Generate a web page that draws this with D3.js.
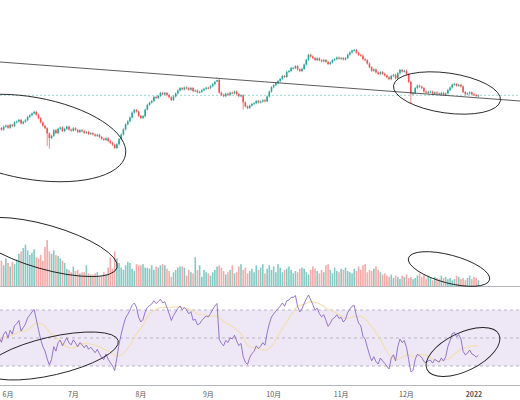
<!DOCTYPE html>
<html><head><meta charset="utf-8">
<script src="https://cdn.jsdelivr.net/npm/d3@7"></script>
<style>body{margin:0;background:#fff}svg{display:block}</style>
</head><body>
<script>
// daily closes, 2021-05-28 .. 2022-01-03 (k USD)
var startDate = new Date(2021, 4, 28);
var closes = [
38.1,37.5,38.6,39.0,38.2, 39.3,38.8,40.2,40.5,41.1, 39.8,40.4,41.0,42.2,42.8, 43.5,44.1,43.0,41.7,40.2,
38.9,38.0,36.1,34.4,35.2, 37.3,36.2,37.8,38.3,37.0, 37.8,38.6,37.5,37.1,38.0, 37.4,36.6,37.3,36.9,36.3,
36.7,35.9,36.2,35.7,35.2, 35.6,34.8,34.1,33.7,34.3, 33.3,32.6,31.9,30.7,32.1, 34.0,35.7,37.6,39.5,40.6,
42.0,43.8,44.8,44.2,42.6, 41.8,42.5,44.9,46.7,47.5, 48.1,49.6,49.2,50.0,51.1, 50.6,51.1,50.3,49.5,48.5,
49.8,50.9,52.0,52.9,52.4, 53.1,52.8,52.3,52.9,51.8, 52.0,51.3,51.5,52.1,52.6, 53.0,52.9,53.6,54.4,55.2,
55.9,51.2,50.4,49.9,50.8, 50.4,51.2,51.0,51.6,50.7, 49.9,50.2,47.6,46.1,45.5, 46.4,47.0,47.3,48.1,47.6,
47.9,48.4,48.0,49.8,51.6, 53.2,54.0,54.8,55.5,56.3, 57.4,57.0,58.9,59.2,60.3, 60.3,61.0,59.8,59.2,60.0,
61.6,63.4,65.2,64.6,64.0, 63.3,63.9,63.2,62.8,63.3, 62.6,61.8,62.4,63.3,63.6, 64.2,63.8,64.0,63.5,64.0,
65.3,66.1,66.8,67.0,66.0, 65.2,64.9,63.6,63.2,62.0, 60.6,59.3,59.8,58.7,58.1, 58.8,58.2,57.6,56.9,56.2,
57.4,57.8,56.5,58.4,59.6, 59.0,59.3,58.1,55.2,50.8, 51.0,52.9,53.8,53.4,52.9, 51.6,51.2,51.5,51.6,50.8,
51.3,50.9,50.6,51.1,50.4, 50.9,52.2,53.1,54.2,54.4, 53.8,54.1,53.5,51.4,50.7, 50.9,51.3,50.6,50.4,50.0,
50.2];
// notable long wicks: [day, low]
var longWicks = [[22, 31.5], [23, 30.5], [100, 56.8], [112, 44.9], [189, 47.0]];
// daily volume (arbitrary units)
var volumes = [
24,22,18,24,20, 17,21,19,23,28, 30,33,36,31,27, 29,32,25,24,27, 22,34,40,30,28, 31,27,26,24,22,
20,15,14,12,17, 13,14,11,12,12, 18,11,10,10,11, 12,8,9,12,10, 16,25,15,30,24, 20,16,14,18,21,
20,15,13,19,18, 18,19,16,16,15, 18,14,17,16,18, 19,18,15,13,8, 12,14,16,17,17, 16,9,14,12,11,
25,14,18,8,14, 12,11,9,12,14, 17,18,16,13,10, 12,14,18,11,12, 17,19,14,16,11, 13,15,12,18,14,
16,19,11,15,18, 14,17,12,19,16, 12,14,15,17,14, 11,13,12,15,16, 15,12,10,14,17, 15,13,11,14,12,
18,19,14,11,16, 13,12,15,14,16, 13,12,11,15,13, 17,14,18,19,12, 14,13,15,17,14, 12,10,11,9,8,
10,7,9,8,6, 9,8,10,7,8, 6,7,9,11,8, 10,6,9,7,5, 8,7,6,9,7, 8,6,7,5,6,
9,8,6,7,5, 7,9,6,8,7, 5];
var monthTicks = [new Date(2021,5,1),new Date(2021,6,1),new Date(2021,7,1),new Date(2021,8,1),
  new Date(2021,9,1),new Date(2021,10,1),new Date(2021,11,1),new Date(2022,0,1)];
var tickLabels = ["6月","7月","8月","9月","10月","11月","12月","2022"];

var W = 520, H = 400, DAY = 864e5;
var up = "#26a69a", down = "#ef5350";

var svg = d3.select("body").append("svg").attr("width", W).attr("height", H)
  .style("font-family", "'Noto Sans CJK SC', sans-serif");

var dates = closes.map(function(c, i){ return new Date(+startDate + i * DAY); });
var x = d3.scaleTime()
  .domain([new Date(2021,5,1), new Date(2022,0,1)])
  .range([8, 474]);
var y = d3.scaleLinear().domain([30.7, 67]).range([148, 50]);

var candles = closes.map(function(c, i){
  var o = i ? closes[i-1] : c;
  var lo = Math.min(o, c) - 0.4, hi = Math.max(o, c) + 0.4;
  longWicks.forEach(function(w){ if (w[0] === i) lo = w[1]; });
  return {d: dates[i], o: o, c: c, lo: lo, hi: hi, v: volumes[i] || 0};
});

// current price line
svg.append("line").attr("x1", 0).attr("x2", W)
  .attr("y1", y(closes[closes.length-1])).attr("y2", y(closes[closes.length-1]))
  .attr("stroke", "#9fd8d2").attr("stroke-dasharray", "2,2");

var cg = svg.append("g");
cg.selectAll("line").data(candles).enter().append("line")
  .attr("x1", function(d){ return x(d.d); }).attr("x2", function(d){ return x(d.d); })
  .attr("y1", function(d){ return y(d.hi); }).attr("y2", function(d){ return y(d.lo); })
  .attr("stroke", function(d){ return d.c >= d.o ? up : down; }).attr("stroke-width", 0.7);
cg.selectAll("rect").data(candles).enter().append("rect")
  .attr("x", function(d){ return x(d.d) - 0.8; }).attr("width", 1.6)
  .attr("y", function(d){ return y(Math.max(d.o, d.c)); })
  .attr("height", function(d){ return Math.max(1, Math.abs(y(d.o) - y(d.c))); })
  .attr("fill", function(d){ return d.c >= d.o ? up : down; });

// volume
var vy = d3.scaleLinear().domain([0, 40]).range([286, 240]);
svg.append("g").selectAll("rect").data(candles).enter().append("rect")
  .attr("x", function(d){ return x(d.d) - 0.8; }).attr("width", 1.6)
  .attr("y", function(d){ return vy(d.v); }).attr("height", function(d){ return 286 - vy(d.v); })
  .attr("fill", function(d){ return d.c >= d.o ? "#80cbc4" : "#f7a9a7"; });
svg.append("line").attr("x1", 0).attr("x2", W).attr("y1", 286.5).attr("y2", 286.5)
  .attr("stroke", "#b2b5be");

// RSI (14, Wilder, neutral seed) and its 14-day average
var rsi = [], ag = 0.35, al = 0.35, N = 14;
closes.forEach(function(c, i){
  if (i) {
    var ch = c - closes[i-1];
    ag = (ag * (N - 1) + Math.max(ch, 0)) / N;
    al = (al * (N - 1) + Math.max(-ch, 0)) / N;
  }
  rsi.push(100 - 100 / (1 + ag / al));
});
var rsiMa = rsi.map(function(v, i){ return d3.mean(rsi.slice(Math.max(0, i - 13), i + 1)); });
var ry = d3.scaleLinear().domain([30, 70]).range([366, 310]);

svg.append("rect").attr("x", 0).attr("width", W).attr("y", ry(70)).attr("height", ry(30) - ry(70))
  .attr("fill", "#ede7f6");
[70, 50, 30].forEach(function(v){
  svg.append("line").attr("x1", 0).attr("x2", W).attr("y1", ry(v)).attr("y2", ry(v))
    .attr("stroke", "#b9b4c4").attr("stroke-dasharray", "3,3");
});
svg.append("path").datum(rsiMa).attr("fill", "none").attr("stroke", "#f3dfb3").attr("stroke-width", 1.2)
  .attr("d", d3.line().x(function(d, i){ return x(dates[i]); }).y(function(d){ return ry(d); }));
svg.append("path").datum(rsi).attr("fill", "none").attr("stroke", "#7e57c2").attr("stroke-width", 0.8)
  .attr("d", d3.line().x(function(d, i){ return x(dates[i]); }).y(function(d){ return ry(d); }));

// time axis
svg.append("line").attr("x1", 0).attr("x2", W).attr("y1", 385.5).attr("y2", 385.5).attr("stroke", "#b2b5be");
svg.append("g").selectAll("text").data(monthTicks).enter().append("text")
  .attr("x", function(d){ return x(d); }).attr("y", 397).attr("text-anchor", "middle")
  .attr("font-size", 7).attr("fill", "#555")
  .attr("font-weight", function(d, i){ return i === 7 ? "bold" : null; })
  .text(function(d, i){ return tickLabels[i]; });

// drawings: trend line and ellipses
svg.append("line").attr("x1", 0).attr("y1", 62).attr("x2", W).attr("y2", 101)
  .attr("stroke", "#333").attr("stroke-width", 0.8);
[[30,138,97,41,10],[447,93,54,20,8],[45,247,75,22,16],[449,269,42,14,15],[52,356,68,19,-13],[463,352,40,19,-26]]
  .forEach(function(e){
    svg.append("ellipse").attr("cx", 0).attr("cy", 0).attr("rx", e[2]).attr("ry", e[3])
      .attr("transform", "translate(" + e[0] + "," + e[1] + ") rotate(" + e[4] + ")")
      .attr("fill", "none").attr("stroke", "#222").attr("stroke-width", 0.9);
  });
</script>
</body></html>
